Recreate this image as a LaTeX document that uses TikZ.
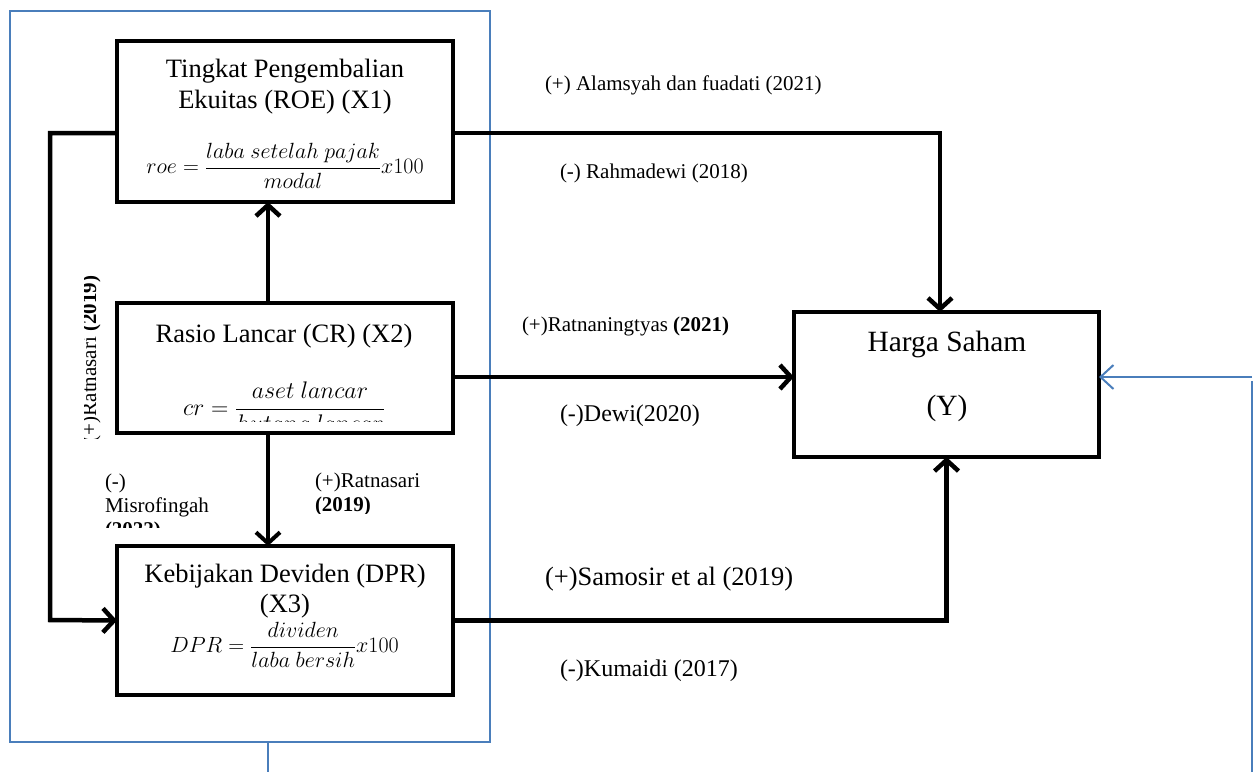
\RequirePackage{fix-cm}
\documentclass[tikz,border=0pt]{standalone}
\usepackage{fontspec}
\setmainfont{Liberation Serif}
\usetikzlibrary{arrows.meta,calc}
\definecolor{wblue}{RGB}{74,126,187}
\begin{document}
\begin{tikzpicture}[x=1pt,y=-1pt,
  box/.style={draw, line width=4pt, inner sep=0pt, outer sep=0pt},
  ttl/.style={inner sep=0pt, outer sep=0pt, anchor=base, font=\fontsize{26.5pt}{30pt}\selectfont},
  fml/.style={inner sep=0pt, outer sep=0pt, anchor=base, font=\fontsize{22pt}{26pt}\selectfont},
  lab/.style={inner sep=0pt, outer sep=0pt, anchor=base west, font=\fontsize{21pt}{24pt}\selectfont},
  labm/.style={lab, font=\fontsize{24pt}{27pt}\selectfont},
  labl/.style={lab, font=\fontsize{26.5pt}{30pt}\selectfont},
  conn/.style={line width=4.5pt, line join=miter, -{Straight Barb[length=11pt,width=24pt]}},
  bline/.style={draw=wblue, line width=2pt},
  barr/.style={wblue, line width=2pt, -{Straight Barb[length=13pt,width=24pt]}}
]
\useasboundingbox (0,0) rectangle (1259,772);

% blue frame
\node[bline, minimum width=480pt, minimum height=731pt, inner sep=0pt] (frame) at (250,376.5) {};
\coordinate (stemend) at (268,772);
\draw[bline] ([xshift=18pt]frame.south) -- (stemend);

% boxes
\node[box, minimum width=336pt, minimum height=161pt] (X1) at (285,121.5) {};
\node[box, minimum width=336pt, minimum height=130pt] (CR) at (285,368) {};
\node[box, minimum width=336pt, minimum height=149pt] (DPR) at (285,620.5) {};
\node[box, minimum width=305pt, minimum height=145pt] (Y) at (946.5,384.5) {};

% X1 text
\node[ttl] (x1a) at (285,77) {Tingkat Pengembalian};
\node[ttl] (x1b) at (285,108) {Ekuitas (ROE) (X1)};
\node[fml] (x1f) at (285,173.5) {$\displaystyle roe=\frac{laba\ setelah\ pajak}{modal}x100$};

% CR text
\node[ttl] (cra) at (284,342) {Rasio Lancar (CR) (X2)};
\begin{scope}
\clip (0,0) rectangle (1259,421);
\node[fml, font=\fontsize{24pt}{28pt}\selectfont] (crf) at (284,415) {$\displaystyle cr=\frac{aset\ lancar}{hutang\ lancar}$};
\end{scope}

% DPR text
\node[ttl] (dpa) at (285,582) {Kebijakan Deviden (DPR)};
\node[ttl] (dpb) at (285,612) {(X3)};
\node[fml] (dpf) at (284.5,652.5) {$\displaystyle DPR=\frac{dividen}{laba\ bersih}x100$};

% Y text
\node[ttl, font=\fontsize{29.4pt}{33pt}\selectfont] (ya) at (947,351) {Harga Saham};
\node[ttl, font=\fontsize{29.4pt}{33pt}\selectfont] (yb) at (947,415) {(Y)};

% connectors
\coordinate (lc) at (50,620);
\draw[conn] ([yshift=-11.5pt]X1.west) -| (lc) -- (DPR.west);
\draw[conn] ([yshift=-11.5pt]X1.east) -| ([xshift=-6.5pt]Y.north);
\draw[conn] ([yshift=-9pt]CR.east) -- ([yshift=-9pt]CR.east -| Y.west);
\draw[conn] (DPR.east) -| (Y.south);
\draw[conn] ([xshift=-17pt]CR.north) -- ([xshift=-17pt]X1.south);
\draw[conn, line width=4pt] ([xshift=-17pt]CR.south) -- ([xshift=-17pt]DPR.north);

% blue right feedback
\coordinate (b1) at (1252,772);
\coordinate (b2) at (1252,381);
\coordinate (b3) at (1252,377);
\draw[bline] (b1) -- (b2);
\draw[barr] (b3) -- ([yshift=7.5pt]Y.east);

% labels
\node[lab] (l1) at (545,90) {(+) Alamsyah dan fuadati (2021)};
\node[lab] (l2) at (560,178) {(-) Rahmadewi (2018)};
\begin{scope}
\clip (0,0) rectangle (1259,335);
\node[lab] (l3) at (522,331) {(+)Ratnaningtyas \textbf{(2021)}};
\end{scope}
\node[labm] (l4) at (560,421) {(-)Dewi(2020)};
\node[labl] (l5) at (545,585) {(+)Samosir et al (2019)};
\node[labm] (l6) at (560,676) {(-)Kumaidi (2017)};

\begin{scope}
\clip (0,0) rectangle (1259,527);
\node[lab] (m1) at (105,488) {(-)};
\node[lab] (m2) at (105,512) {Misrofingah};
\node[lab] (m3) at (105,536) {\textbf{(2022)}};
\end{scope}

\begin{scope}
\clip (0,0) rectangle (1259,513);
\node[lab] (r1) at (315,487) {(+)Ratnasari};
\node[lab] (r2) at (315,511) {\textbf{(2019)}};
\end{scope}

\begin{scope}
\clip (84,270) rectangle (110,438);
\node[lab, rotate=90] (rv) at (96,442) {(+)Ratnasari \textbf{(2019)}};
\end{scope}
\end{tikzpicture}
\end{document}
